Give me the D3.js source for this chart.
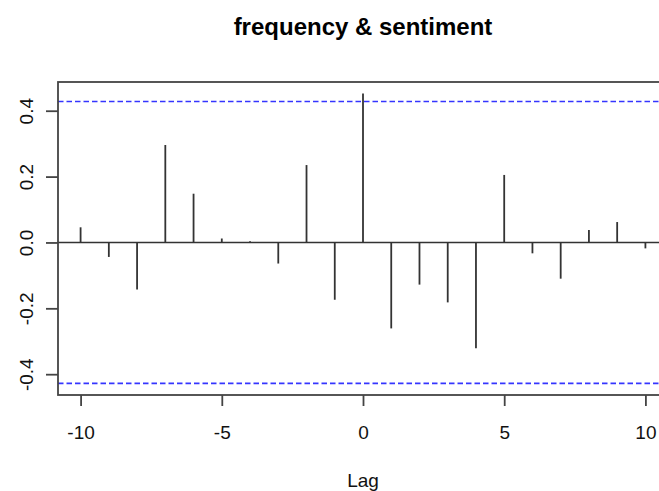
<!DOCTYPE html>
<html>
<head>
<meta charset="utf-8">
<script src="https://cdn.jsdelivr.net/npm/d3@7"></script>
<style>
  html, body { margin: 0; padding: 0; background: #fff; }
  svg { display: block; }
  text { font-family: "Liberation Sans", Arial, sans-serif; }
</style>
</head>
<body>
<svg id="chart" width="659" height="491"></svg>
<script>
const lags = [-10, -9, -8, -7, -6, -5, -4, -3, -2, -1, 0, 1, 2, 3, 4, 5, 6, 7, 8, 9, 10];
const ccfValues = [0.046, -0.044, -0.143, 0.296, 0.148, 0.012, 0.004, -0.064, 0.235, -0.174,
                   0.452, -0.261, -0.128, -0.182, -0.321, 0.205, -0.033, -0.110, 0.038, 0.062, -0.018];
const ciBound = 0.428;
const xTicks = [-10, -5, 0, 5, 10];
const yTicks = [-0.4, -0.2, 0.0, 0.2, 0.4];
const title = "frequency & sentiment";
const xLabel = "Lag";

const svg = d3.select("#chart");
const mLeft = 58, mRight = 668, mTop = 82, mBottom = 395;

// R-style 4% range extension
const xMin = d3.min(lags), xMax = d3.max(lags);
const xPad = (xMax - xMin) * 0.04;
const yLo = Math.min(d3.min(ccfValues), -ciBound), yHi = Math.max(d3.max(ccfValues), ciBound);
const yPad = (yHi - yLo) * 0.04;

const x = d3.scaleLinear().domain([xMin - xPad, xMax + xPad]).range([mLeft, mRight]);
const y = d3.scaleLinear().domain([yLo - yPad, yHi + yPad]).range([mBottom, mTop]);

// zero line
svg.append("line")
  .attr("x1", mLeft).attr("x2", mRight)
  .attr("y1", y(0)).attr("y2", y(0))
  .attr("stroke", "#333").attr("stroke-width", 1.6);

// CI lines
[ciBound, -ciBound].forEach(v => {
  svg.append("line")
    .attr("x1", mLeft).attr("x2", mRight)
    .attr("y1", y(v)).attr("y2", y(v))
    .attr("stroke", "#3535ff").attr("stroke-width", 1.6)
    .attr("stroke-dasharray", "5.5,3");
});

// spikes
svg.selectAll("line.spike").data(lags).enter().append("line")
  .attr("class", "spike")
  .attr("x1", d => x(d)).attr("x2", d => x(d))
  .attr("y1", y(0)).attr("y2", (d, i) => y(ccfValues[i]))
  .attr("stroke", "#333").attr("stroke-width", 1.8);

// box
svg.append("rect")
  .attr("x", mLeft).attr("y", mTop)
  .attr("width", mRight - mLeft).attr("height", mBottom - mTop)
  .attr("fill", "none").attr("stroke", "#444").attr("stroke-width", 1.8);

// x axis
const xAxis = d3.axisBottom(x).tickValues(xTicks).tickSize(11).tickPadding(0).tickFormat(d3.format("d"));
const gx = svg.append("g").attr("transform", `translate(0,${mBottom})`).call(xAxis);
gx.select(".domain").remove();
gx.selectAll(".tick line").attr("stroke", "#444").attr("stroke-width", 1.8);
gx.selectAll(".tick text")
  .attr("y", 44).attr("dy", null)
  .attr("fill", "#111")
  .style("font-size", "19px")
  .style("font-family", "'Liberation Sans', Arial, sans-serif")
  .text(d => d < 0 ? "-" + Math.abs(d) : String(d));

// y axis
const yAxis = d3.axisLeft(y).tickValues(yTicks).tickSize(12).tickFormat(d3.format(".1f"));
const gy = svg.append("g").attr("transform", `translate(${mLeft},0)`).call(yAxis);
gy.select(".domain").remove();
gy.selectAll(".tick line").attr("stroke", "#444").attr("stroke-width", 1.8);
gy.selectAll(".tick text")
  .attr("x", null).attr("dy", null)
  .attr("text-anchor", "middle")
  .attr("transform", "translate(-25,0) rotate(-90)")
  .attr("fill", "#111")
  .style("font-size", "19px")
  .style("font-family", "'Liberation Sans', Arial, sans-serif")
  .text(d => d < 0 ? "-" + Math.abs(d).toFixed(1) : d.toFixed(1));

// title
svg.append("text")
  .attr("x", (mLeft + mRight) / 2).attr("y", 34.5)
  .attr("text-anchor", "middle")
  .style("font-size", "24px").style("font-weight", "bold")
  .text(title);

// x label
svg.append("text")
  .attr("x", (mLeft + mRight) / 2).attr("y", 487)
  .attr("text-anchor", "middle")
  .attr("fill", "#111")
  .style("font-size", "19px")
  .text(xLabel);
</script>
</body>
</html>
